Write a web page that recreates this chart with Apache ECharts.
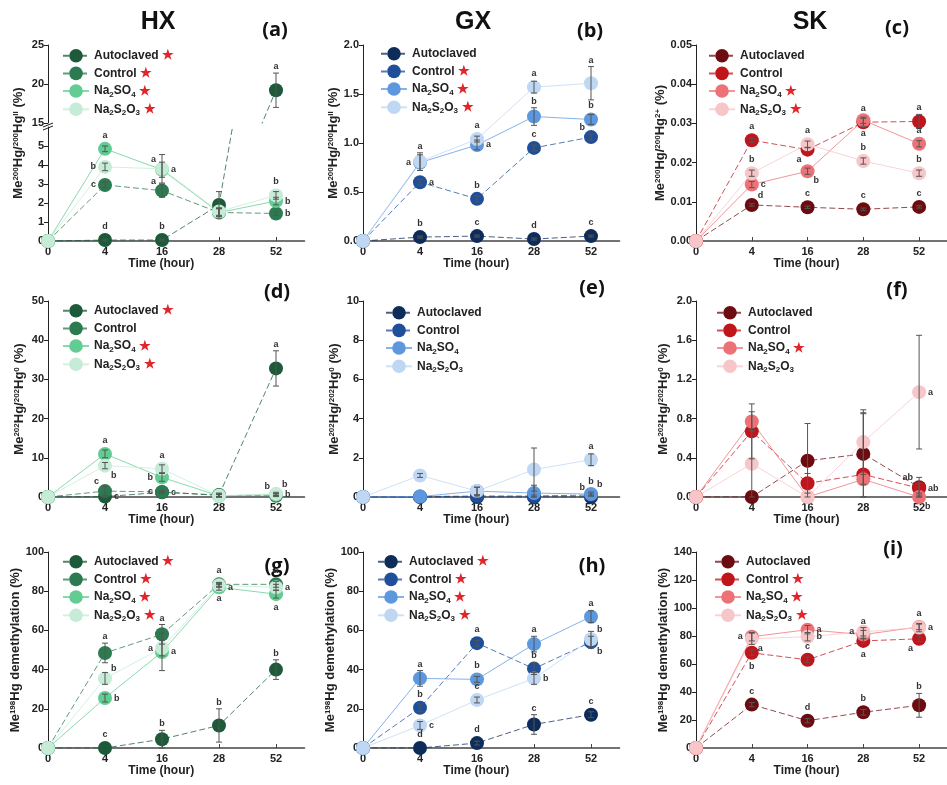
<!DOCTYPE html>
<html><head><meta charset="utf-8">
<script src="https://cdn.jsdelivr.net/npm/echarts@6/dist/echarts.min.js"></script>
<style>html,body{margin:0;padding:0;background:#fff}#c{width:947px;height:785px}</style>
</head><body><div id="c"></div>
<script>
// ================= DATA =================
const timeLabels = ['0', '4', '16', '28', '52'];
const treatments = ['Autoclaved', 'Control', 'Na2SO4', 'Na2S2O3'];

// (a) HX  Me200Hg/200HgII (%)
const a_auto = [0, 0.05, 0.05, 1.9, 19.2],  a_auto_err = [0, 0.05, 0.05, 0.7, 2.2],  a_auto_let = ['', 'd', 'b', '', 'a'],  a_auto_pos = ['', 't', 't', '', 't'];
const a_ctrl = [0, 2.95, 2.65, 1.5, 1.45],  a_ctrl_err = [0, 0.15, 0.35, 0.2, 0.1],  a_ctrl_let = ['', 'c', 'a', '', 'b'],  a_ctrl_pos = ['', 'l', 'tl', '', 'r'];
const a_so4  = [0, 4.85, 3.75, 1.5, 2.1],   a_so4_err  = [0, 0.15, 0.4, 0.2, 0.2],   a_so4_let  = ['', 'a', 'a', '', 'b'],  a_so4_pos  = ['', 't', 'r', '', 'r'];
const a_s2o3 = [0, 3.9, 3.8, 1.55, 2.4],    a_s2o3_err = [0, 0.2, 0.75, 0.2, 0.2],   a_s2o3_let = ['', 'b', 'a', '', 'b'],  a_s2o3_pos = ['', 'l', 'tl', '', 't'];

// (b) GX  Me200Hg/200HgII (%)
const b_auto = [0, 0.04, 0.05, 0.02, 0.05], b_auto_err = [0, 0.01, 0.01, 0.01, 0.01], b_auto_let = ['', 'b', 'c', 'd', 'c'], b_auto_pos = ['', 't', 't', 't', 't'];
const b_ctrl = [0, 0.60, 0.43, 0.95, 1.06], b_ctrl_err = [0, 0.03, 0.03, 0.03, 0.03], b_ctrl_let = ['', 'a', 'b', 'c', 'b'], b_ctrl_pos = ['', 'r', 't', 't', 'tl'];
const b_so4  = [0, 0.80, 0.98, 1.27, 1.24], b_so4_err  = [0, 0.08, 0.05, 0.09, 0.05], b_so4_let  = ['', 'a', 'a', 'b', 'b'], b_so4_pos  = ['', 'l', 'r', 't', 't'];
const b_s2o3 = [0, 0.81, 1.04, 1.57, 1.61], b_s2o3_err = [0, 0.09, 0.03, 0.06, 0.17], b_s2o3_let = ['', 'a', 'a', 'a', 'a'], b_s2o3_pos = ['', 't', 't', 't', 't'];

// (c) SK  Me200Hg/200Hg2+ (%)
const c_auto = [0, 0.0092, 0.0086, 0.0081, 0.0087], c_auto_err = [0, 0.0003, 0.0003, 0.0003, 0.0003], c_auto_let = ['', 'd', 'c', 'c', 'c'], c_auto_pos = ['', 'tr', 't', 't', 't'];
const c_ctrl = [0, 0.0257, 0.0233, 0.0303, 0.0305], c_ctrl_err = [0, 0.0005, 0.0005, 0.001, 0.0018], c_ctrl_let = ['', 'a', 'a', 'a', 'a'], c_ctrl_pos = ['', 't', 'bl', 't', 't'];
const c_so4  = [0, 0.0144, 0.0178, 0.0308, 0.0248], c_so4_err  = [0, 0.0008, 0.0008, 0.0008, 0.0008], c_so4_let  = ['', 'c', 'b', 'a', 'a'], c_so4_pos  = ['', 'r', 'br', 'b', 't'];
const c_s2o3 = [0, 0.0173, 0.0247, 0.0204, 0.0173], c_s2o3_err = [0, 0.0008, 0.0008, 0.0008, 0.0008], c_s2o3_let = ['', 'b', 'a', 'b', 'b'], c_s2o3_pos = ['', 't', 't', 't', 't'];

// (d) HX  Me202Hg/202Hg0 (%)
const d_auto = [0, 0.1, 1.2, 0.5, 32.8], d_auto_err = [0, 0.3, 0.3, 0.5, 4.5], d_auto_let = ['', 'c', 'c', '', 'a'], d_auto_pos = ['', 'r', 'r', '', 't'];
const d_ctrl = [0, 1.5, 1.3, 0.4, 0.3],  d_ctrl_err = [0, 1.2, 0.3, 0.3, 0.2], d_ctrl_let = ['', 'c', 'c', '', 'b'], d_ctrl_pos = ['', 'tl', 'l', '', 'tl'];
const d_so4  = [0, 11.0, 5.0, 0.3, 0.6], d_so4_err  = [0, 1.0, 1.0, 0.5, 0.3], d_so4_let  = ['', 'a', 'b', '', 'b'], d_so4_pos  = ['', 't', 'l', '', 'r'];
const d_s2o3 = [0, 8.0, 7.2, 0.3, 0.8],  d_s2o3_err = [0, 0.8, 1.0, 0.3, 0.4], d_s2o3_let = ['', 'b', 'a', '', 'b'], d_s2o3_pos = ['', 'br', 't', '', 'tr'];

// (e) GX  Me202Hg/202Hg0 (%)
const e_auto = [0, 0, 0, 0, 0],            e_auto_err = [0, 0, 0, 0, 0],          e_auto_let = ['', '', '', '', 'b'], e_auto_pos = ['', '', '', '', 'tl'];
const e_ctrl = [0, 0.02, 0.05, 0.05, 0.1], e_ctrl_err = [0, 0, 0.05, 0.05, 0.05], e_ctrl_let = ['', '', '', '', 'b'], e_ctrl_pos = ['', '', '', '', 't'];
const e_so4  = [0, 0.02, 0.3, 0.2, 0.15],  e_so4_err  = [0, 0, 0.2, 0.4, 0.1],    e_so4_let  = ['', '', '', '', 'b'], e_so4_pos  = ['', '', '', '', 'tr'];
const e_s2o3 = [0, 1.1, 0.3, 1.4, 1.9],    e_s2o3_err = [0, 0.1, 0.2, 1.1, 0.3],  e_s2o3_let = ['', '', '', '', 'a'], e_s2o3_pos = ['', '', '', '', 't'];

// (f) SK  Me202Hg/202Hg0 (%)
const f_auto = [0, 0, 0.37, 0.44, 0.10],   f_auto_err = [0, 0, 0.38, 0.45, 0.1],  f_auto_let = ['', '', '', '', 'ab'], f_auto_pos = ['', '', '', '', 'tl'];
const f_ctrl = [0, 0.67, 0.14, 0.23, 0.09], f_ctrl_err = [0, 0.28, 0.1, 0.62, 0.05], f_ctrl_let = ['', '', '', '', 'ab'], f_ctrl_pos = ['', '', '', '', 'r'];
const f_so4  = [0, 0.77, 0.0, 0.18, 0.0],  f_so4_err  = [0, 0.1, 0, 0.05, 0.02],  f_so4_let  = ['', '', '', '', 'b'],  f_so4_pos  = ['', '', '', '', 'br'];
const f_s2o3 = [0, 0.34, 0.0, 0.56, 1.07], f_s2o3_err = [0, 0.34, 0, 0.3, 0.58],  f_s2o3_let = ['', '', '', '', 'a'],  f_s2o3_pos = ['', '', '', '', 'r'];

// (g) HX  Me198Hg demethylation (%)
const g_auto = [0, 0, 4.5, 11.5, 40],     g_auto_err = [0, 0, 4.5, 8.5, 5],   g_auto_let = ['', 'c', 'b', 'b', 'b'], g_auto_pos = ['', 't', 't', 't', 't'];
const g_ctrl = [0, 48.5, 58, 83.5, 83.5], g_ctrl_err = [0, 5, 5, 1, 1.5],     g_ctrl_let = ['', 'a', 'a', 'a', 'a'], g_ctrl_pos = ['', 't', 't', 't', 't'];
const g_so4  = [0, 25.5, 49, 82, 78.5],   g_so4_err  = [0, 2, 9.5, 1.5, 2],   g_so4_let  = ['', 'b', 'a', 'a', 'a'], g_so4_pos  = ['', 'r', 'r', 'r', 'b'];
const g_s2o3 = [0, 35.5, 51, 83, 82],     g_s2o3_err = [0, 3, 4, 1, 1.5],     g_s2o3_let = ['', 'b', 'a', 'a', 'a'], g_s2o3_pos = ['', 'tr', 'l', 'b', 'r'];

// (h) GX  Me198Hg demethylation (%)
const h_auto = [0, 0, 2.5, 12, 17],        h_auto_err = [0, 0, 1, 5, 1.5],   h_auto_let = ['', 'd', 'd', 'c', 'c'], h_auto_pos = ['', 't', 't', 't', 't'];
const h_ctrl = [0, 20.5, 53.5, 40.5, 54],  h_ctrl_err = [0, 2, 1.5, 3, 3],   h_ctrl_let = ['', 'b', 'a', 'b', 'b'], h_ctrl_pos = ['', 't', 't', 't', 'br'];
const h_so4  = [0, 35.5, 35, 53, 67],      h_so4_err  = [0, 4, 1.5, 4, 3],   h_so4_let  = ['', 'a', 'b', 'a', 'a'], h_so4_pos  = ['', 't', 't', 't', 't'];
const h_s2o3 = [0, 11.5, 24.5, 35.5, 55.5], h_s2o3_err = [0, 2, 1.5, 3, 4],  h_s2o3_let = ['', 'c', 'c', 'b', 'b'], h_s2o3_pos = ['', 'r', 't', 'r', 'tr'];

// (i) SK  Me198Hg demethylation (%)
const i_auto = [0, 31, 19.5, 25.5, 30.5], i_auto_err = [0, 1.5, 1.5, 2, 8.5], i_auto_let = ['', 'c', 'd', 'b', 'b'], i_auto_pos = ['', 't', 't', 't', 't'];
const i_ctrl = [0, 68, 63, 76.5, 78],     i_ctrl_err = [0, 2, 2, 2, 2],       i_ctrl_let = ['', 'b', 'c', 'a', 'a'], i_ctrl_pos = ['', 'b', 't', 'b', 'bl'];
const i_so4  = [0, 79.5, 84.5, 81, 86.5], i_so4_err  = [0, 3, 3, 3, 2],       i_so4_let  = ['', 'a', 'a', 'a', 'a'], i_so4_pos  = ['', 'l', 'r', 't', 't'];
const i_s2o3 = [0, 78, 79.5, 83, 86],     i_s2o3_err = [0, 4, 3, 3, 3],       i_s2o3_let = ['', 'a', 'b', 'a', 'a'], i_s2o3_pos = ['', 'br', 'r', 'l', 'r'];

// significance stars in legends (1 = star)
const stars = {
  a: [1, 1, 1, 1], b: [0, 1, 1, 1], c: [0, 0, 1, 1],
  d: [1, 0, 1, 1], e: [0, 0, 0, 0], f: [0, 0, 1, 0],
  g: [1, 1, 1, 1], h: [1, 1, 1, 1], i: [0, 1, 1, 1]
};

const panelData = {
  a: [[a_auto, a_auto_err, a_auto_let, a_auto_pos], [a_ctrl, a_ctrl_err, a_ctrl_let, a_ctrl_pos], [a_so4, a_so4_err, a_so4_let, a_so4_pos], [a_s2o3, a_s2o3_err, a_s2o3_let, a_s2o3_pos]],
  b: [[b_auto, b_auto_err, b_auto_let, b_auto_pos], [b_ctrl, b_ctrl_err, b_ctrl_let, b_ctrl_pos], [b_so4, b_so4_err, b_so4_let, b_so4_pos], [b_s2o3, b_s2o3_err, b_s2o3_let, b_s2o3_pos]],
  c: [[c_auto, c_auto_err, c_auto_let, c_auto_pos], [c_ctrl, c_ctrl_err, c_ctrl_let, c_ctrl_pos], [c_so4, c_so4_err, c_so4_let, c_so4_pos], [c_s2o3, c_s2o3_err, c_s2o3_let, c_s2o3_pos]],
  d: [[d_auto, d_auto_err, d_auto_let, d_auto_pos], [d_ctrl, d_ctrl_err, d_ctrl_let, d_ctrl_pos], [d_so4, d_so4_err, d_so4_let, d_so4_pos], [d_s2o3, d_s2o3_err, d_s2o3_let, d_s2o3_pos]],
  e: [[e_auto, e_auto_err, e_auto_let, e_auto_pos], [e_ctrl, e_ctrl_err, e_ctrl_let, e_ctrl_pos], [e_so4, e_so4_err, e_so4_let, e_so4_pos], [e_s2o3, e_s2o3_err, e_s2o3_let, e_s2o3_pos]],
  f: [[f_auto, f_auto_err, f_auto_let, f_auto_pos], [f_ctrl, f_ctrl_err, f_ctrl_let, f_ctrl_pos], [f_so4, f_so4_err, f_so4_let, f_so4_pos], [f_s2o3, f_s2o3_err, f_s2o3_let, f_s2o3_pos]],
  g: [[g_auto, g_auto_err, g_auto_let, g_auto_pos], [g_ctrl, g_ctrl_err, g_ctrl_let, g_ctrl_pos], [g_so4, g_so4_err, g_so4_let, g_so4_pos], [g_s2o3, g_s2o3_err, g_s2o3_let, g_s2o3_pos]],
  h: [[h_auto, h_auto_err, h_auto_let, h_auto_pos], [h_ctrl, h_ctrl_err, h_ctrl_let, h_ctrl_pos], [h_so4, h_so4_err, h_so4_let, h_so4_pos], [h_s2o3, h_s2o3_err, h_s2o3_let, h_s2o3_pos]],
  i: [[i_auto, i_auto_err, i_auto_let, i_auto_pos], [i_ctrl, i_ctrl_err, i_ctrl_let, i_ctrl_pos], [i_so4, i_so4_err, i_so4_let, i_so4_pos], [i_s2o3, i_s2o3_err, i_s2o3_let, i_s2o3_pos]]
};

// ================= STYLE / LAYOUT =================
const FONT = '"Liberation Sans", Arial, Helvetica, sans-serif';
const GREEN = ['#1c5a39', '#2b7a50', '#62cc93', '#c6ebd6'];
const BLUE  = ['#0e2c5a', '#1f4f98', '#5d98df', '#bfd7f2'];
const RED   = ['#6d0c10', '#c1151c', '#ec7277', '#f6c6c8'];
const colLeft = [48, 363, 696];
const rowTop = [45, 301, 552];
const PLOT_H = 196;
const PLOT_W = 256.5;
const X_MAX = 4.5;

const yNames = {
  II: 'Me{p|200}Hg/{p|200}Hg{p|II} (%)',
  SK2: 'Me{p|200}Hg/{p|200}Hg{p|2+} (%)',
  Hg0: 'Me{p|202}Hg/{p|202}Hg{p|0} (%)',
  dem: 'Me{p|198}Hg demethylation (%)'
};
const nameRich = { p: { fontSize: 8, fontWeight: 'bold', fontFamily: FONT, color: '#222', verticalAlign: 'top' } };

const panels = {
  a: { col: 0, row: 0, colors: GREEN, yName: null, legend: [62, 49], tag: [275, 30] },
  b: { col: 1, row: 0, colors: BLUE, y: [0, 2, 0.5, 1], yName: yNames.II, gap: 22, legend: [380, 47], tag: [590, 31] },
  c: { col: 2, row: 0, colors: RED, y: [0, 0.05, 0.01, 2], yName: yNames.SK2, gap: 26, legend: [708, 49], tag: [897, 28] },
  d: { col: 0, row: 1, colors: GREEN, y: [0, 50, 10, 0], yName: yNames.Hg0, gap: 22, legend: [62, 304], tag: [277, 292] },
  e: { col: 1, row: 1, colors: BLUE, y: [0, 10, 2, 0], yName: yNames.Hg0, gap: 22, legend: [385, 306], tag: [592, 288] },
  f: { col: 2, row: 1, colors: RED, y: [0, 2, 0.4, 1], yName: yNames.Hg0, gap: 26, legend: [716, 306], tag: [897, 290] },
  g: { col: 0, row: 2, colors: GREEN, y: [0, 100, 20, 0], yName: yNames.dem, gap: 22, legend: [62, 555], tag: [277, 566] },
  h: { col: 1, row: 2, colors: BLUE, y: [0, 100, 20, 0], yName: yNames.dem, gap: 22, legend: [377, 555], tag: [592, 566] },
  i: { col: 2, row: 2, colors: RED, y: [0, 140, 20, 0], yName: yNames.dem, gap: 26, legend: [714, 555], tag: [893, 549] }
};

const option = {
  animation: false, backgroundColor: '#ffffff',
  grid: [], xAxis: [], yAxis: [], series: [], legend: [], graphic: []
};

const tickTxt = { fontSize: 11, fontWeight: 'bold', fontFamily: FONT, color: '#222' };

function addGrid(left, top, height, ycfg, showX, yName, gap) {
  const gi = option.grid.length;
  option.grid.push({ left: left, top: top, width: PLOT_W, height: height });
  option.xAxis.push({
    gridIndex: gi, type: 'value', min: 0, max: X_MAX, interval: 1, show: showX,
    axisLine: { show: true, onZero: false, lineStyle: { color: '#444', width: 1.6 } },
    axisTick: { show: true, inside: true, length: 4, customValues: [0, 1, 2, 3, 4], lineStyle: { color: '#444' } },
    axisLabel: Object.assign({ customValues: [0, 1, 2, 3, 4], margin: 5, formatter: v => timeLabels[Math.round(v)] }, tickTxt),
    splitLine: { show: false },
    name: 'Time (hour)', nameLocation: 'middle', nameGap: 17,
    nameTextStyle: { fontSize: 12, fontWeight: 'bold', fontFamily: FONT, color: '#222', padding: [0, 30, 0, 0] }
  });
  const ya = {
    gridIndex: gi, type: 'value', min: ycfg.min, max: ycfg.max, interval: ycfg.interval,
    axisLine: { show: true, onZero: false, lineStyle: { color: '#222', width: 1 } },
    axisTick: { show: true, length: 4, lineStyle: { color: '#222' } },
    axisLabel: Object.assign({ margin: 4, formatter: v => v.toFixed(ycfg.dec) }, tickTxt),
    splitLine: { show: false }
  };
  if (ycfg.custom) {
    ya.axisLabel.customValues = ycfg.custom;
    ya.axisTick.customValues = ycfg.custom;
  }
  if (yName) {
    ya.name = yName; ya.nameLocation = 'middle'; ya.nameGap = gap;
    ya.nameTextStyle = { fontSize: 13, fontWeight: 'bold', fontFamily: FONT, color: '#222', rich: nameRich };
  }
  option.yAxis.push(ya);
  return gi;
}

function placeLetter(pos, c, topY, botY) {
  switch (pos) {
    case 't': return { x: c[0], y: Math.min(topY, c[1] - 7) - 2, align: 'center', va: 'bottom' };
    case 'b': return { x: c[0], y: Math.max(botY, c[1] + 7) + 2, align: 'center', va: 'top' };
    case 'l': return { x: c[0] - 9, y: c[1], align: 'right', va: 'middle' };
    case 'r': return { x: c[0] + 9, y: c[1], align: 'left', va: 'middle' };
    case 'tl': return { x: c[0] - 6, y: c[1] - 5, align: 'right', va: 'bottom' };
    case 'tr': return { x: c[0] + 6, y: c[1] - 5, align: 'left', va: 'bottom' };
    case 'bl': return { x: c[0] - 6, y: c[1] + 5, align: 'right', va: 'top' };
    case 'br': return { x: c[0] + 6, y: c[1] + 5, align: 'left', va: 'top' };
  }
  return null;
}

function addSeries(gi, id, k, arr, colors, yMin, yMax, suffix) {
  const vals = arr[0], errs = arr[1], lets = arr[2], poss = arr[3];
  option.series.push({
    type: 'line', name: treatments[k] + '|' + id + suffix, xAxisIndex: gi, yAxisIndex: gi,
    data: vals.map((v, i) => [i, v]),
    symbol: 'circle', symbolSize: 14, showSymbol: true, clip: true,
    itemStyle: { color: colors[k] },
    lineStyle: { color: colors[k], width: 1, opacity: 0.75, type: k < 2 ? [6, 3] : 'solid' },
    emphasis: { disabled: true }, z: 2
  });
  option.series.push({
    type: 'custom', xAxisIndex: gi, yAxisIndex: gi, silent: true, z: 4,
    data: vals.map((v, i) => [i, v, errs[i]]),
    renderItem: function (params, api) {
      const idx = params.dataIndex;
      const x = api.value(0), v = api.value(1), e = api.value(2);
      const children = [];
      if (v < yMin || v > yMax) return { type: 'group', children: children };
      const c = api.coord([x, v]);
      let topY = c[1], botY = c[1];
      if (e > 0) {
        const t = api.coord([x, Math.min(v + e, yMax)]);
        const b = api.coord([x, Math.max(v - e, yMin)]);
        topY = t[1]; botY = b[1];
        const ls = { stroke: '#555', lineWidth: 1 };
        children.push({ type: 'line', shape: { x1: c[0], y1: t[1], x2: c[0], y2: b[1] }, style: ls });
        children.push({ type: 'line', shape: { x1: c[0] - 3, y1: t[1], x2: c[0] + 3, y2: t[1] }, style: ls });
        children.push({ type: 'line', shape: { x1: c[0] - 3, y1: b[1], x2: c[0] + 3, y2: b[1] }, style: ls });
      }
      const L = lets[idx];
      if (L) {
        const p = placeLetter(poss[idx], c, topY, botY);
        if (p) children.push({ type: 'text', style: { text: L, x: p.x, y: p.y, align: p.align, verticalAlign: p.va, fill: '#333', font: 'bold 9px ' + FONT } });
      }
      return { type: 'group', children: children };
    }
  });
}

const legendRich = {
  n: { fontSize: 12, fontWeight: 'bold', fontFamily: FONT, color: '#222', lineHeight: 15 },
  s: { fontSize: 8, fontWeight: 'bold', fontFamily: FONT, color: '#222', verticalAlign: 'bottom' },
  star: { fontSize: 13, fontFamily: FONT, color: '#e0262b', lineHeight: 15 }
};
function legendLabel(t) {
  if (t === 'Na2SO4') return '{n|Na}{s|2}{n|SO}{s|4}';
  if (t === 'Na2S2O3') return '{n|Na}{s|2}{n|S}{s|2}{n|O}{s|3}';
  return '{n|' + t + '}';
}

Object.keys(panels).forEach(id => {
  const P = panels[id];
  const left = colLeft[P.col], top = rowTop[P.row];
  const data = panelData[id];
  if (id === 'a') {
    // broken y axis: upper part 15-25, lower part 0-6
    const gUp = addGrid(left, top, 78, { min: 15, max: 25, interval: 5, dec: 0 }, false, null, 0);
    const gLo = addGrid(left, top + 82, PLOT_H - 82, { min: 0, max: 6, interval: 1, dec: 0, custom: [0, 1, 2, 3, 4, 5] }, true, null, 0);
    data.forEach((arr, k) => addSeries(gLo, id, k, arr, P.colors, 0, 6, ''));
    addSeries(gUp, id, 0, data[0], P.colors, 15, 25, 'up');
    option.graphic.push({
      type: 'text', x: 18, y: 143, rotation: Math.PI / 2,
      style: { text: yNames.II, align: 'center', verticalAlign: 'middle', fill: '#222', font: 'bold 13px ' + FONT, rich: nameRich }
    });
    // break marks
    option.graphic.push({ type: 'line', shape: { x1: 43, y1: 127, x2: 53, y2: 123 }, style: { stroke: '#222', lineWidth: 1 } });
    option.graphic.push({ type: 'line', shape: { x1: 43, y1: 130, x2: 53, y2: 126 }, style: { stroke: '#222', lineWidth: 1 } });
  } else {
    const gi = addGrid(left, top, PLOT_H, { min: P.y[0], max: P.y[1], interval: P.y[2], dec: P.y[3] }, true, P.yName, P.gap);
    data.forEach((arr, k) => addSeries(gi, id, k, arr, P.colors, P.y[0], P.y[1], ''));
  }
  const st = stars[id];
  option.legend.push({
    left: P.legend[0], top: P.legend[1], orient: 'vertical', padding: 0,
    itemWidth: 26, itemHeight: 17, itemGap: 4, selectedMode: false,
    data: treatments.map(t => t + '|' + id),
    formatter: function (name) {
      const t = name.split('|')[0];
      const k = treatments.indexOf(t);
      return legendLabel(t) + (st[k] ? '{star| ★}' : '');
    },
    textStyle: { fontSize: 12, fontWeight: 'bold', fontFamily: FONT, color: '#222', rich: legendRich }
  });
  option.graphic.push({
    type: 'text', x: P.tag[0], y: P.tag[1],
    style: { text: '(' + id + ')', align: 'center', verticalAlign: 'middle', fill: '#111', font: 'bold 20px "Open Sans", Lato, sans-serif' }
  });
});

// column titles
[['HX', 158], ['GX', 473], ['SK', 810]].forEach(t => {
  option.graphic.push({ type: 'text', x: t[1], y: 22, style: { text: t[0], align: 'center', verticalAlign: 'middle', fill: '#111', font: 'bold 25px ' + FONT } });
});

const chart = echarts.init(document.getElementById('c'), null, { renderer: 'canvas' });
chart.setOption(option);
</script></body></html>
